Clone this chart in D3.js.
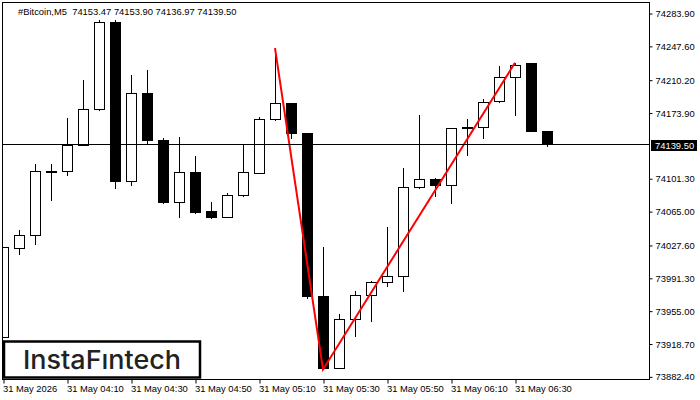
<!DOCTYPE html>
<html>
<head>
<meta charset="utf-8">
<script src="https://cdn.jsdelivr.net/npm/d3@7"></script>
<style>
  html,body{margin:0;padding:0;background:#fff}
  svg{display:block}
  text{font-family:"Liberation Sans",Arial,sans-serif}
</style>
</head>
<body>
<script>
// M5 bars, 03:50 .. 06:40
const times = ['03:50','03:55','04:00','04:05','04:10','04:15','04:20','04:25','04:30','04:35',
  '04:40','04:45','04:50','04:55','05:00','05:05','05:10','05:15','05:20','05:25',
  '05:30','05:35','05:40','05:45','05:50','05:55','06:00','06:05','06:10','06:15',
  '06:20','06:25','06:30','06:35','06:40']
const open  = [73926.1,74024.0,74038.8,74109.6,74109.5,74138.3,74178.0,74274.5,74098.0,74196.0,
  74144.1,74075.3,74108.4,74064.6,74058.7,74083.0,74107.3,74167.0,74184.7,74150.8,
  73971.7,73891.4,73946.0,73972.5,73986.9,73993.5,74091.9,74100.7,74094.1,74157.9,
  74157.9,74186.9,74213.4,74228.1,74153.47]
const high  = [74024.8,74043.9,74116.8,74116.8,74167.7,74209.6,74275.9,74275.9,74215.9,74220.4,
  74145.6,74147.4,74126.4,74075.6,74084.8,74137.5,74169.2,74245.2,74184.7,74151.5,
  74024.8,73951.1,73976.2,73988.3,74046.9,74112.1,74171.7,74102.1,74157.1,74167.3,
  74189.1,74224.8,74228.9,74228.1,74153.90]
const low   = [73926.1,74017.4,74028.4,74077.1,74105.1,74138.3,74176.5,74090.3,74093.6,74140.5,
  74074.2,74058.7,74063.1,74057.2,74058.7,74081.9,74107.3,74165.4,74146.0,73968.8,
  73890.0,73891.4,73926.8,73943.3,73982.0,73976.5,74090.3,74081.5,74074.2,74126.8,
  74145.6,74185.3,74171.7,74153.3,74136.97]
const close = [74024.8,74038.8,74109.5,74109.1,74138.3,74178.0,74274.5,74098.0,74195.7,74143.4,
  74074.8,74108.4,74063.8,74058.7,74083.3,74108.4,74167.0,74184.7,74151.1,73971.0,
  73891.4,73946.0,73972.5,73986.9,73993.5,74091.9,74100.7,74094.1,74156.3,74157.5,
  74185.8,74213.4,74226.7,74153.3,74139.50]

// pattern line: bar index -> price
const patternIdx   = [17, 20, 32]
const patternPrice = [74245.2, 73890.0, 74228.9]

const priceTicks = [74283.90,74247.60,74210.20,74173.90,74101.30,74065.00,74027.60,73991.30,73955.00,73918.70,73882.40]
const timeTickIdx = [0,4,8,12,16,20,24,28,32]
const timeTickLabels = ['31 May 2026','31 May 04:10','31 May 04:30','31 May 04:50','31 May 05:10',
  '31 May 05:30','31 May 05:50','31 May 06:10','31 May 06:30']
const lastPrice = 74139.50
const title = '#Bitcoin,M5  74153.47 74153.90 74136.97 74139.50'

const W = 700, H = 400
const plot = {l: 2, t: 2, r: 649, b: 379}

const x = d3.scaleLinear().domain([0, 40]).range([3, 643])
const y = d3.scaleLinear().domain([74283.90, 73882.40]).range([13, 376.35])

const svg = d3.select('body').append('svg').attr('width', W).attr('height', H)

svg.append('defs').append('clipPath').attr('id', 'clip')
  .append('rect').attr('x', plot.l + 0.5).attr('y', plot.t + 0.5)
  .attr('width', plot.r - plot.l - 1).attr('height', plot.b - plot.t - 1)

const g = svg.append('g').attr('clip-path', 'url(#clip)')

const bars = times.map((t, i) => ({t, i, o: open[i], h: high[i], l: low[i], c: close[i]}))

// wicks
g.append('g').selectAll('line').data(bars).enter().append('line')
  .attr('x1', d => Math.round(x(d.i)) + 0.5).attr('x2', d => Math.round(x(d.i)) + 0.5)
  .attr('y1', d => Math.round(y(d.h))).attr('y2', d => Math.round(y(d.l)) + 1)
  .attr('stroke', '#000').attr('stroke-width', 1)

// bodies
g.append('g').selectAll('rect').data(bars).enter().append('rect')
  .attr('x', d => Math.round(x(d.i)) - 4.5)
  .attr('width', 10)
  .attr('y', d => Math.round(y(Math.max(d.o, d.c))) + 0.5)
  .attr('height', d => Math.max(1, Math.round(y(Math.min(d.o, d.c))) - Math.round(y(Math.max(d.o, d.c)))))
  .attr('fill', d => d.c >= d.o ? '#fff' : '#000')
  .attr('stroke', '#000').attr('stroke-width', 1)

// last price line
const ly = Math.round(y(lastPrice)) + 0.5
svg.append('line').attr('x1', plot.l).attr('x2', plot.r).attr('y1', ly).attr('y2', ly)
  .attr('stroke', '#000').attr('stroke-width', 1)

// pattern
const pts = patternIdx.map((v, k) => [x(v), y(patternPrice[k])])
g.append('path').attr('d', d3.line()(pts))
  .attr('fill', 'none').attr('stroke', '#ff0000').attr('stroke-width', 2)

// frame
svg.append('rect').attr('x', plot.l + 0.5).attr('y', plot.t + 0.5)
  .attr('width', plot.r - plot.l).attr('height', plot.b - plot.t)
  .attr('fill', 'none').attr('stroke', '#000').attr('stroke-width', 1)

// right price axis
const yAxis = d3.axisRight(y).tickValues(priceTicks).tickSize(3).tickPadding(3)
  .tickFormat(d3.format('.2f'))
const ya = svg.append('g').attr('transform', `translate(${plot.r + 0.5},0.5)`).call(yAxis)
ya.select('.domain').remove()
ya.selectAll('text').attr('font-size', 9.4).attr('fill', '#000')
  .style('font-family', '"Liberation Sans",Arial,sans-serif')

// last price tag
svg.append('rect').attr('x', 651).attr('y', ly - 4.5).attr('width', 46).attr('height', 11).attr('fill', '#000')
svg.append('text').attr('x', 655).attr('y', ly + 4).attr('font-size', 9.4).attr('fill', '#fff')
  .text(d3.format('.2f')(lastPrice))

// bottom time axis
const xAxis = d3.axisBottom(x).tickValues(timeTickIdx).tickSize(4).tickPadding(2)
  .tickFormat((d, k) => timeTickLabels[k])
const xa = svg.append('g').attr('transform', `translate(0.5,${plot.b + 0.5})`).call(xAxis)
xa.select('.domain').remove()
xa.selectAll('text').attr('font-size', 9.4).attr('fill', '#000').attr('text-anchor', 'start')
  .attr('dx', -1)
  .style('font-family', '"Liberation Sans",Arial,sans-serif')

// title
svg.append('text').attr('x', 18).attr('y', 14.5).attr('font-size', 9.4).attr('fill', '#000')
  .attr('xml:space', 'preserve').style('white-space', 'pre').text(title)

// logo box
svg.append('rect').attr('x', 4).attr('y', 341.5).attr('width', 196).attr('height', 36)
  .attr('fill', '#fff').attr('stroke', '#000').attr('stroke-width', 2.5)
svg.append('text').attr('x', 23).attr('y', 368.5)
  .attr('font-size', 26).attr('font-weight', 500).attr('fill', '#222')
  .attr('textLength', 158).attr('lengthAdjust', 'spacingAndGlyphs')
  .style('font-family', 'Inter, "Open Sans", sans-serif')
  .text('InstaF\u0131ntech')
</script>
</body>
</html>
